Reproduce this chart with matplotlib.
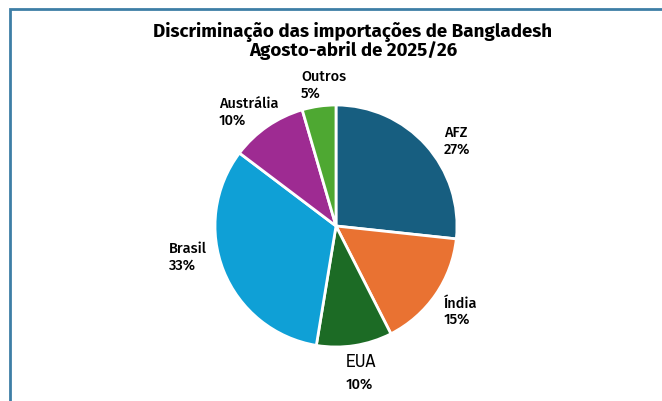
import matplotlib.pyplot as plt
from matplotlib.patches import Rectangle

# dados
paises = ['AFZ', 'Índia', 'EUA', 'Brasil', 'Austrália', 'Outros']
valores = [26.7, 15.8, 10.1, 32.7, 10.2, 4.5]
percentuais = ['27%', '15%', '10%', '33%', '10%', '5%']
cores = ['#175e80', '#e97232', '#1c6b25', '#0fa0d6', '#9e2b92', '#4ea832']

fig = plt.figure(figsize=(6.62, 4.02), dpi=100)
titulo_fonte = ['Fira Sans', 'DejaVu Sans']
rot_fonte = ['Fira Sans', 'DejaVu Sans']
eua_fonte = ['Archivo Narrow', 'DejaVu Sans']

# moldura
fig.patches.append(Rectangle((10/662, -0.1), 1.2, 1 - 10/402 + 0.1, transform=fig.transFigure,
                             fill=False, edgecolor='#3d7ea6', linewidth=2))

fig.text(353/662, 1 - 41/402, 'Discriminação das importações de Bangladesh\nAgosto-abril de 2025/26',
         ha='center', va='center', fontsize=13.5, fontweight='bold', family=titulo_fonte, linespacing=0.95)

ax = fig.add_axes([(336-121)/662, (402-348)/402, 242/662, 242/402])
ax.pie(valores, colors=cores, startangle=90, counterclock=False, radius=1,
       wedgeprops=dict(edgecolor='white', linewidth=2))
ax.set_xlim(-1, 1)
ax.set_ylim(-1, 1)
ax.set_aspect('equal')

# posicoes dos rotulos (coordenadas de dados)
pos = [(0.89, 0.71), (0.89, -0.70), (0.08, -1.21), (-1.38, -0.25), (-0.97, 0.95), (-0.29, 1.17)]
for (x, y), nome, p in zip(pos, paises, percentuais):
    if nome == 'EUA':
        ax.text(x, y + 0.03, nome, ha='left', va='bottom', fontsize=13, family=eua_fonte, clip_on=False)
        ax.text(x, y - 0.03, p, ha='left', va='top', fontsize=10.5, fontweight=500, family=rot_fonte, clip_on=False)
    else:
        ax.text(x, y, nome + '\n' + p, ha='left', va='center', fontsize=10.5, fontweight=500, family=rot_fonte,
                linespacing=1.2, clip_on=False)

fig.savefig('out.png', dpi=100)
